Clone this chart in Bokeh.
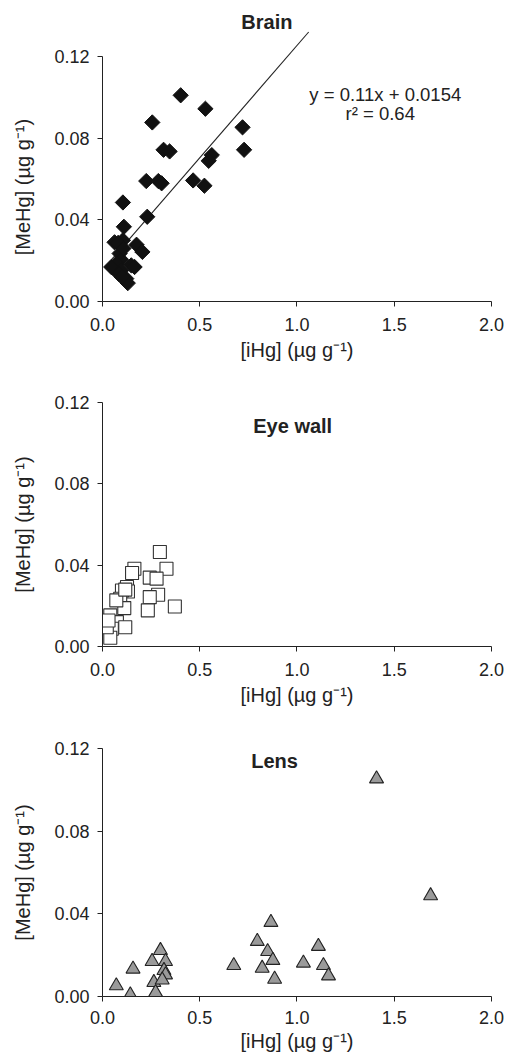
import numpy as np
from bokeh.plotting import figure
from bokeh.layouts import column
from bokeh.models import FixedTicker, NumeralTickFormatter
from bokeh.core.properties import value
from bokeh.embed import file_html
from bokeh.resources import INLINE

FONT = "Liberation Sans"

# ---------------- data ----------------
brain_x = [0.402, 0.529, 0.256, 0.720, 0.728, 0.314, 0.345, 0.562, 0.546, 0.225,
           0.287, 0.304, 0.466, 0.524, 0.105, 0.230, 0.110, 0.175, 0.205, 0.062,
           0.105, 0.080, 0.088, 0.096, 0.071, 0.045, 0.096, 0.148, 0.122, 0.165,
           0.084, 0.108, 0.130, 0.100]
brain_y = [0.1010, 0.0944, 0.0877, 0.0853, 0.0743, 0.0743, 0.0735, 0.0717, 0.0689, 0.0590,
           0.0590, 0.0579, 0.0593, 0.0567, 0.0485, 0.0415, 0.0366, 0.0278, 0.0243, 0.0290,
           0.0300, 0.0287, 0.0235, 0.0205, 0.0185, 0.0169, 0.0152, 0.0177, 0.0112, 0.0169,
           0.0135, 0.0260, 0.0090, 0.0120]

eye_x = [0.295, 0.164, 0.152, 0.329, 0.243, 0.278, 0.126, 0.131, 0.100, 0.286,
         0.243, 0.091, 0.112, 0.233, 0.372, 0.040, 0.074, 0.117, 0.048, 0.040,
         0.022, 0.031, 0.071, 0.117]
eye_y = [0.0465, 0.0383, 0.0362, 0.0383, 0.0339, 0.0334, 0.0293, 0.0271, 0.0276, 0.0255,
         0.0243, 0.0235, 0.0189, 0.0178, 0.0197, 0.0153, 0.0120, 0.0095, 0.0087, 0.0043,
         0.0095, 0.0128, 0.0227, 0.0280]

lens_x = [1.409, 1.687, 0.866, 0.796, 1.110, 0.849, 0.876, 0.675, 0.821, 1.033,
          1.136, 1.162, 0.885, 0.298, 0.255, 0.324, 0.316, 0.324, 0.264, 0.273,
          0.157, 0.071, 0.143, 0.307]
lens_y = [0.1054, 0.0488, 0.0359, 0.0267, 0.0243, 0.0218, 0.0175, 0.0150, 0.0137, 0.0162,
          0.0150, 0.0100, 0.0084, 0.0223, 0.0170, 0.0170, 0.0126, 0.0105, 0.0068, 0.0019,
          0.0133, 0.0052, 0.0008, 0.0080]

fit_slope = 0.11
fit_intercept = 0.0154
fit_x_end = 1.06
fit_label = "y = 0.11x + 0.0154"
r2_label = "r\u00b2 = 0.64"

panel_titles = ["Brain", "Eye wall", "Lens"]
x_ticks = [0.0, 0.5, 1.0, 1.5, 2.0]
y_ticks = [0.0, 0.04, 0.08, 0.12]
x_label = "[iHg] (\u00b5g g\u207b\u00b9)"
y_label = "[MeHg] (\u00b5g g\u207b\u00b9)"

INK = "#222222"


def make_panel(height, top, bottom, y_end, xtick_standoff, xlab_standoff, ylab_pad=0):
    p = figure(width=506, height=height, x_range=(0, 2.0001), y_range=(0, y_end),
               output_backend="svg", toolbar_location=None,
               min_border_left=102, min_border_right=15,
               min_border_top=top, min_border_bottom=bottom)
    p.outline_line_color = None
    p.grid.visible = False
    for ax in (p.xaxis[0], p.yaxis[0]):
        ax.axis_line_color = INK
        ax.major_tick_line_color = INK
        ax.major_tick_in = 0
        ax.major_tick_out = 5
        ax.minor_tick_line_color = None
        ax.major_label_text_font = FONT
        ax.major_label_text_font_size = "18px"
        ax.major_label_text_color = INK
        ax.axis_label_text_font = FONT
        ax.axis_label_text_font_size = "20px"
        ax.axis_label_text_font_style = "normal"
        ax.axis_label_text_color = INK
    p.yaxis.major_label_standoff = 8
    p.xaxis.major_label_standoff = xtick_standoff
    p.xaxis.ticker = FixedTicker(ticks=x_ticks)
    p.yaxis.ticker = FixedTicker(ticks=y_ticks)
    p.xaxis.formatter = NumeralTickFormatter(format="0.0")
    p.yaxis.formatter = NumeralTickFormatter(format="0.00")
    p.xaxis.bounds = (0, 2.0)
    p.yaxis.bounds = (0, 0.12)
    p.xaxis.axis_label = x_label
    p.xaxis.axis_label_standoff = xlab_standoff
    # trailing no-break spaces push the rotated label down so that it is
    # centred on the 0-0.12 axis rather than on the taller frame
    p.yaxis.axis_label = y_label + "\u00a0" * ylab_pad
    p.yaxis.axis_label_standoff = 17
    return p


def add_title(p, text, x, y):
    p.text(x=[x], y=[y], text=[text], text_font=value(FONT), text_font_size="20px",
           text_font_style="bold", text_color=INK, text_align="center",
           text_baseline="middle")


# Brain
p1 = make_panel(390, 11, 89, 0.14204, 11, 5, ylab_pad=11)
fx = [min(brain_x), fit_x_end]
fy = [fit_slope * v + fit_intercept for v in fx]
p1.line(fx, fy, line_color=INK, line_width=1.1)
p1.scatter(brain_x, brain_y, marker="square", angle=np.pi / 4, size=10.8,
           fill_color="#111111", line_color="#111111", line_width=1)
add_title(p1, panel_titles[0], 0.845, 0.1369)
p1.text(x=[1.454, 1.428], y=[0.1014, 0.0921], text=[fit_label, r2_label],
        text_font=value(FONT), text_font_size="18.5px", text_color=INK,
        text_align="center", text_baseline="middle")

# Eye wall
p2 = make_panel(346, 12, 90, 0.1201, 11, 5)
p2.scatter(eye_x, eye_y, marker="square", size=13, fill_color="white",
           line_color="#333333", line_width=1.1)
add_title(p2, panel_titles[1], 0.978, 0.1087)

# Lens
p3 = make_panel(321, 12, 61, 0.1201, 9, 3)
p3.scatter(lens_x, lens_y, marker="triangle", size=14, fill_color="#9a9a9a",
           line_color="#222222", line_width=1.1)
add_title(p3, panel_titles[2], 0.885, 0.114)

layout = column(p1, p2, p3, spacing=0)
open("out.html", "w").write(file_html(layout, INLINE))
